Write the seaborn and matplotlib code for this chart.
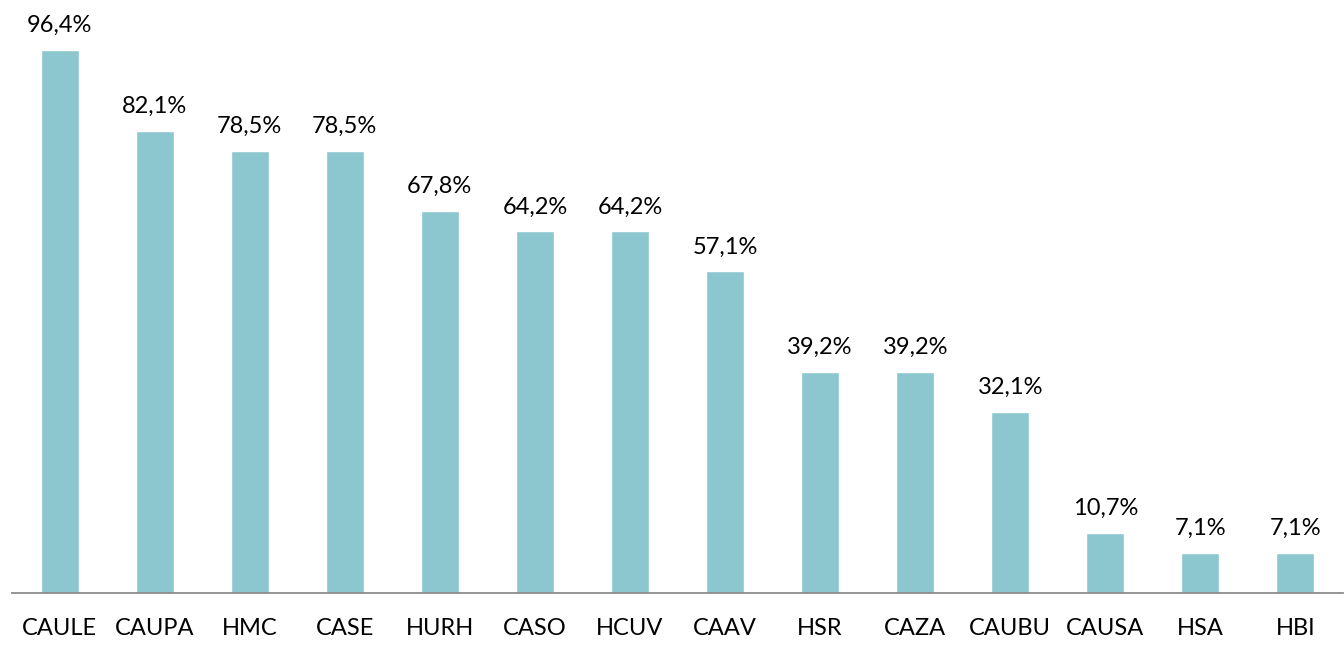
import matplotlib
matplotlib.use("Agg")
import pandas as pd
import matplotlib.pyplot as plt
import seaborn as sns

centers = ["CAULE", "CAUPA", "HMC", "CASE", "HURH", "CASO", "HCUV", "CAAV",
           "HSR", "CAZA", "CAUBU", "CAUSA", "HSA", "HBI"]
values = [96.4, 82.1, 78.5, 78.5, 67.8, 64.2, 64.2, 57.1,
          39.2, 39.2, 32.1, 10.7, 7.1, 7.1]

df = pd.DataFrame({"centro": centers, "pct": values})

sns.set_style("white")
plt.rcParams["font.family"] = ["Lato", "DejaVu Sans"]

fig = plt.figure(figsize=(13.44, 6.5), dpi=100)
ax = fig.add_axes([12 / 1344, 57 / 650, 1331 / 1344, 563.3 / 650])

sns.barplot(data=df, x="centro", y="pct", color="#8cc6ce", width=0.4,
            saturation=1, ax=ax)

ax.set_ylim(0, 100)
ax.set_xlim(-0.5, len(centers) - 0.5)
ax.set_xlabel("")
ax.set_ylabel("")
ax.set_yticks([])
for side in ["top", "right", "left"]:
    ax.spines[side].set_visible(False)
ax.spines["bottom"].set_color("#8c8c8c")
ax.spines["bottom"].set_linewidth(1.3)
ax.tick_params(axis="x", length=0, pad=18, labelsize=17, colors="black")

for i, v in enumerate(values):
    ax.annotate(f"{v:.1f}%".replace(".", ","), (i, v), xytext=(0, 10),
                textcoords="offset points", ha="center", va="bottom",
                fontsize=17, color="black")

plt.savefig("out.png", dpi=100)
